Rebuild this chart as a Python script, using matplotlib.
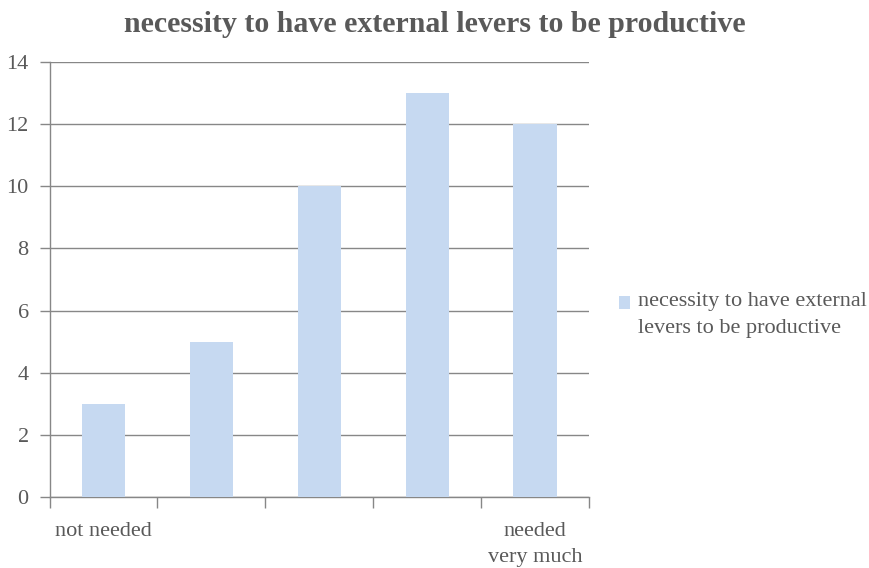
import matplotlib
matplotlib.use("Agg")
import matplotlib.pyplot as plt
from matplotlib.patches import Patch, Rectangle
from matplotlib.legend_handler import HandlerPatch
import numpy as np

categories = ["not needed", "", "", "", "needed\nvery much"]
values = [3, 5, 10, 13, 12]
series_name = "necessity to have external\nlevers to be productive"
title = "necessity to have external levers to be productive"
y_ticks = [0, 2, 4, 6, 8, 10, 12, 14]

plt.rcParams["font.family"] = ["Liberation Serif", "DejaVu Serif"]
text_color = "#595959"
bar_color = "#C6D9F1"
line_color = "#878787"

W, H = 869, 568
fig = plt.figure(figsize=(W / 100, H / 100), dpi=100)
ax = fig.add_axes([49.5 / W, 1 - 497 / H, 539.5 / W, 435 / H])

x = np.arange(len(categories))
ax.bar(x, values, width=0.4, color=bar_color, zorder=3)

ax.set_xlim(-0.5, len(categories) - 0.5)
ax.set_ylim(0, 14)
ax.set_yticks(y_ticks)
ax.set_yticklabels([str(v) for v in y_ticks], fontsize=16, color=text_color)
ax.yaxis.grid(True, color=line_color, linewidth=1.0, zorder=0)
ax.tick_params(axis="y", length=7, width=1.0, color=line_color, pad=8)

ax.set_xticks(x)
ax.set_xticklabels(categories, fontsize=16, color=text_color, linespacing=1.5)
ax.tick_params(axis="x", which="major", length=0, pad=18)
ax.set_xticks(np.arange(-0.5, len(categories)), minor=True)
ax.tick_params(axis="x", which="minor", length=8, width=1.0, color=line_color)

for side in ("top", "right"):
    ax.spines[side].set_visible(False)
for side in ("left", "bottom"):
    ax.spines[side].set_color(line_color)
    ax.spines[side].set_linewidth(1.0)

fig.text(0.5, 1 - 32 / H, title, ha="center", va="baseline",
         fontsize=21.5, fontweight="bold", color=text_color)


def top_line_square(legend, orig_handle, xdescent, ydescent, width, height, fontsize):
    # keep the swatch level with the first line of a two-line label
    return Rectangle((-xdescent, -ydescent + 8.5), width, height)


handle = Patch(facecolor=bar_color, edgecolor="none")
leg = fig.legend([handle], [series_name], loc="center left",
                 bbox_to_anchor=(619 / W, 1 - 315 / H), frameon=False,
                 fontsize=16, labelcolor=text_color, handlelength=0.5,
                 handleheight=0.5, handletextpad=0.35, borderpad=0.0,
                 borderaxespad=0.0,
                 handler_map={Patch: HandlerPatch(patch_func=top_line_square)})
for t in leg.get_texts():
    t.set_linespacing(1.55)

fig.savefig("out.png", dpi=100)
